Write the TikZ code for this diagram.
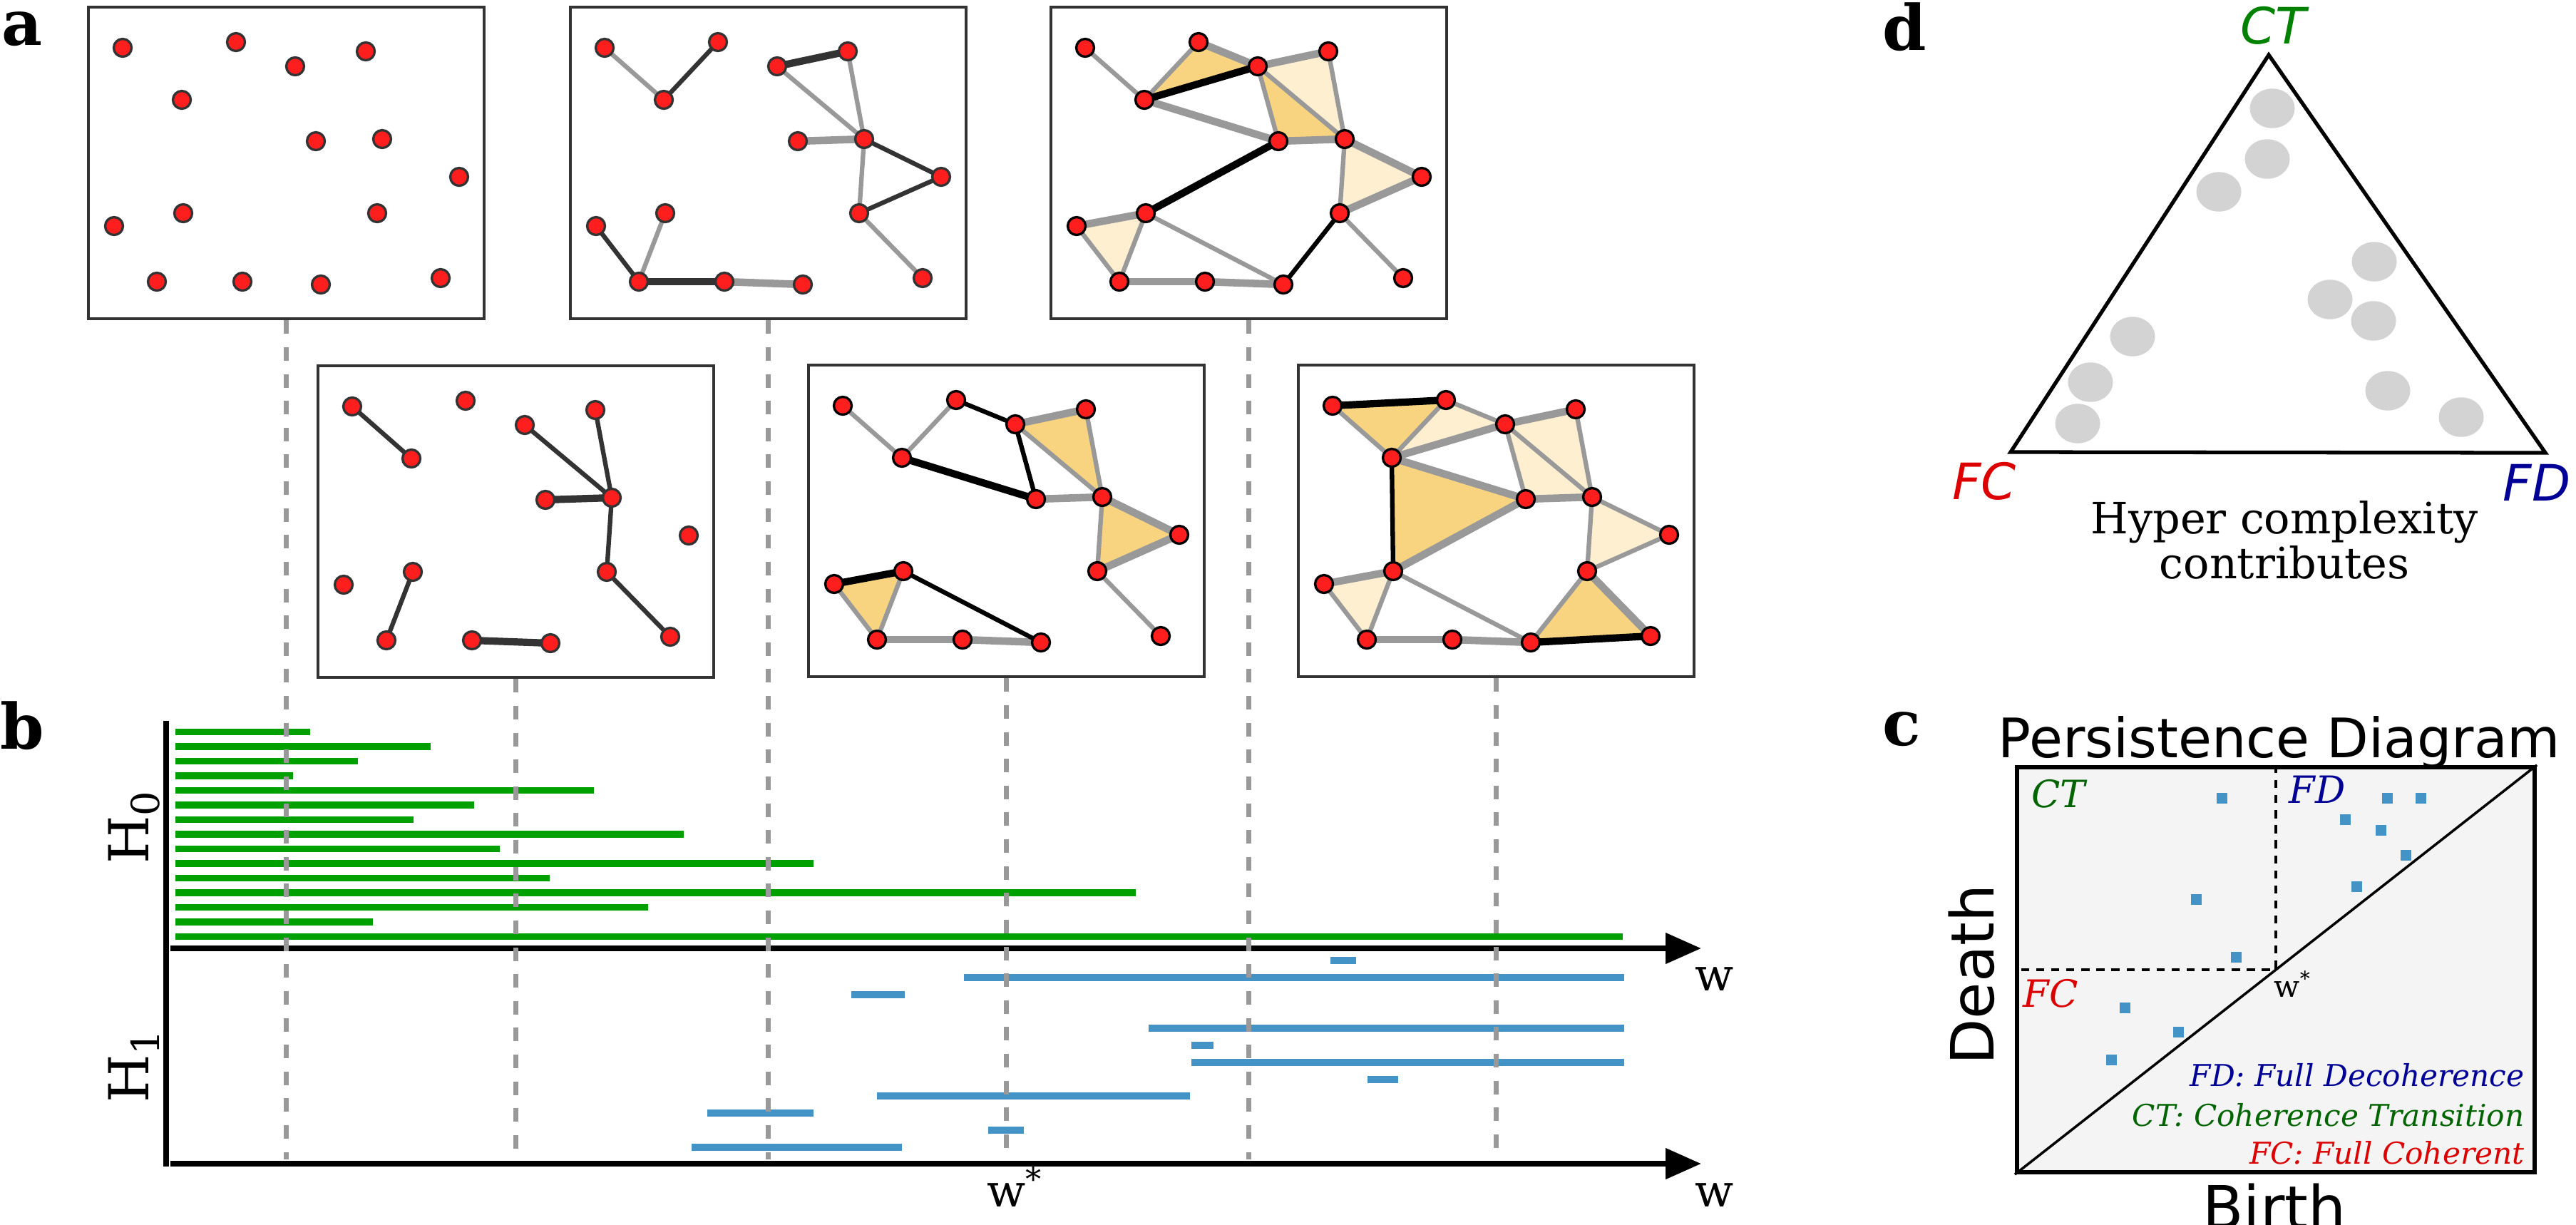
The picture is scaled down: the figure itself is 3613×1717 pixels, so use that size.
\documentclass[tikz,border=0pt]{standalone}
\usepackage{fontspec}
\setmainfont{DejaVu Serif}
\setsansfont{DejaVu Sans}
\usetikzlibrary{arrows.meta}
\pgfdeclarelayer{bg}
\pgfsetlayers{bg,main}

\definecolor{nodered}{RGB}{255,30,30}
\definecolor{rimgray}{HTML}{333333}
\definecolor{edgegray}{HTML}{999999}
\definecolor{faceD}{HTML}{F8D480}
\definecolor{faceL}{HTML}{FDEFD0}
\definecolor{barG}{RGB}{0,160,0}
\definecolor{barB}{RGB}{67,147,198}
\definecolor{ctgreen}{RGB}{0,130,0}
\definecolor{ctdark}{RGB}{0,100,0}
\definecolor{fcred}{RGB}{220,0,0}
\definecolor{fdblue}{RGB}{0,0,150}
\definecolor{dotgray}{HTML}{D3D3D3}
\definecolor{pdfill}{HTML}{F4F4F4}

\newcommand{\setfs}[1]{\fontsize{#1}{#1}\selectfont}

% the same point cloud, placed in every box
\newcommand{\putpoints}[4]{%
  \foreach \k/\u/\v in {1/48/57,2/207/49,3/290/83,4/389/62,5/131/130,6/319/188,7/412/185,
      8/520/238,9/133/289,10/36/307,11/405/289,12/96/385,13/216/385,14/326/389,15/494/380}
    \node[vtx=#4] (#1p\k) at ({#2+\u},{#3+\v}) {};
}
\newcommand{\linkall}[3]{\foreach \a/\b in {#3} \draw[#2] (#1p\a.center) -- (#1p\b.center);}
\newcommand{\facefill}[3]{\foreach \a/\b/\c in {#3}
  \fill[#2] (#1p\a.center) -- (#1p\b.center) -- (#1p\c.center) -- cycle;}

\tikzset{
  vtx/.style={circle,draw=#1,fill=nodered,line width=0.95pt,minimum size=0.25cm,inner sep=0pt},
  pbox/.style={draw=rimgray,line width=1.2pt,minimum width=5.55cm,minimum height=4.37cm,inner sep=0pt},
  ge/.style={draw=edgegray,line width=1.8pt,line cap=round},
  geT/.style={draw=edgegray,line width=3pt,line cap=round},
  ke/.style={draw=#1,line width=1.8pt,line cap=round},
  ke/.default=black,
  keT/.style={draw=#1,line width=2.9pt,line cap=round},
  keT/.default=black,
  guide/.style={draw=edgegray,line width=1.8pt,dash pattern=on 5.4pt off 5.3pt},
  barline/.style={draw=#1,line width=2.67pt},
  axisline/.style={draw=black,line width=2.2pt,-{Triangle[length=0.5cm,width=0.42cm]}},
  panel/.style={font=\setfs{25}\bfseries,inner sep=0pt},
  sq/.style={rectangle,fill=barB,minimum size=0.15cm,inner sep=0pt},
  dotline/.style={draw=black,line width=1.3pt,dash pattern=on 3.2pt off 2.8pt},
}

\begin{document}
\begin{tikzpicture}[x=0.01cm,y=-0.01cm]
\useasboundingbox (0,0) rectangle (3613,1717);

% ---- a: the boxes
\node[pbox] (box1) at (401.5,228.5) {};
\node[pbox] (box2) at (1077.5,228.5) {};
\node[pbox] (box3) at (1751.5,228.5) {};
\node[pbox] (box4) at (723.5,731.5) {};
\node[pbox] (box5) at (1411.5,730.5) {};
\node[pbox] (box6) at (2098.5,730.5) {};

\putpoints{b1}{124}{10}{rimgray}
\putpoints{b2}{800}{10}{rimgray}
\putpoints{b3}{1474}{10}{black}
\putpoints{b4}{446}{513}{rimgray}
\putpoints{b5}{1134}{512}{black}
\putpoints{b6}{1821}{512}{black}

\begin{pgfonlayer}{bg}
  % box 2
  \linkall{b2}{ge}{1/5,3/7,4/7,7/11,9/12,11/15}
  \linkall{b2}{geT}{6/7,13/14}
  \linkall{b2}{ke=rimgray}{2/5,7/8,8/11,10/12}
  \linkall{b2}{keT=rimgray}{3/4,12/13}
  % box 3
  \facefill{b3}{faceD}{2/3/5,3/6/7}
  \facefill{b3}{faceL}{3/4/7,7/8/11,9/10/12}
  \linkall{b3}{ge}{1/5,2/5,3/6,3/7,4/7,7/11,10/12,9/12,9/14,11/15}
  \linkall{b3}{geT}{2/3,3/4,6/7,5/6,7/8,8/11,9/10,12/13,13/14}
  \linkall{b3}{keT}{3/5,6/9}
  \linkall{b3}{ke}{11/14}
  % box 4
  \linkall{b4}{ke=rimgray}{1/5,3/7,4/7,7/11,11/15,9/12}
  \linkall{b4}{keT=rimgray}{6/7,13/14}
  % box 5
  \facefill{b5}{faceD}{3/4/7,7/8/11,9/10/12}
  \linkall{b5}{ge}{1/5,2/5,4/7,7/11,10/12,9/12,11/15,3/7}
  \linkall{b5}{geT}{3/4,6/7,7/8,8/11,12/13,13/14}
  \linkall{b5}{keT}{5/6,9/10}
  \linkall{b5}{ke}{2/3,3/6,9/14}
  % box 6
  \facefill{b6}{faceD}{1/2/5,5/6/9,11/14/15}
  \facefill{b6}{faceL}{2/3/5,3/4/7,3/6/7,7/8/11,9/10/12}
  \linkall{b6}{ge}{1/5,2/5,2/3,3/6,3/7,4/7,7/11,8/11,7/8,10/12,9/12,9/14,11/14}
  \linkall{b6}{geT}{5/3,3/4,6/7,6/9,5/6,9/10,12/13,13/14,11/15}
  \linkall{b6}{keT}{1/2,14/15}
  \linkall{b6}{ke}{5/9}
\end{pgfonlayer}

\node[panel,anchor=base west] (la) at (2,63) {a};

% ---- b: barcode
\node[panel,anchor=base west] (lb) at (0,1050) {b};
\foreach \k/\e in {1/435,2/604,3/502,4/411,5/833,6/665,7/580,8/959,9/701,10/1141,
    11/771,12/1593,13/909,14/523,15/2276}
  \draw[barline=barG] (246,{1026.5+20.5*(\k-1)}) -- (\e,{1026.5+20.5*(\k-1)});
\foreach \yy/\s/\e in {1347/1866/1902,1371/1352/2278,1395/1194/1269,1442/1611/2278,
    1466/1671/1702,1490/1671/2278,1514/1918/1961,1537/1230/1669,1561/992/1141,
    1585/1386/1436,1609/970/1265}
  \draw[barline=barB] (\s,\yy) -- (\e,\yy);

\coordinate (ytop) at (233,1011);
\coordinate (ybot) at (233,1636);
\draw[line width=2.3pt] (ytop) -- (ybot);
\coordinate (hzero0) at (239,1330);
\coordinate (hzero1) at (2386,1330);
\coordinate (hone0) at (239,1632);
\coordinate (hone1) at (2386,1632);
\draw[axisline] (hzero0) -- (hzero1);
\draw[axisline] (hone0) -- (hone1);

\node[font=\setfs{22},rotate=90,anchor=base,inner sep=0pt] (hzero) at (208,1160) {H\textsubscript{0}};
\node[font=\setfs{22},rotate=90,anchor=base,inner sep=0pt] (hone) at (208,1495) {H\textsubscript{1}};
\node[font=\setfs{18},anchor=base west,inner sep=0pt] (wtop) at (2377,1389) {w};
\node[font=\setfs{18},anchor=base west,inner sep=0pt] (wbot) at (2377,1692) {w};
\node[font=\setfs{18},anchor=base west,inner sep=0pt] (wstarb) at (1384,1692) {w\textsuperscript{*}};

\coordinate (gend) at (0,1626);
\foreach \b in {box1,box2,box3,box4,box5,box6}
  \draw[guide] (\b.south) -- (\b.south |- gend);

% ---- c: persistence diagram
\node[panel,anchor=base west] (lc) at (2640,1045) {c};
\node[draw=black,fill=pdfill,line width=1.65pt,minimum width=7.26cm,minimum height=5.68cm,
  inner sep=0pt] (pd) at (3192,1360) {};
\draw[line width=1pt] (pd.south west) -- (pd.north east);
\coordinate (wcorner) at (3192,1360);
\draw[dotline] (wcorner |- pd.north) -- (wcorner) -- (pd.west |- wcorner);
\foreach \k/\u/\v in {1/3116/1119,2/3348/1119,3/3395/1119,4/3289/1149,5/3339/1164,
    6/3374/1199,7/3305/1243,8/3080/1261,9/3136/1342,10/2980/1413,11/3055/1447,12/2961/1486}
  \node[sq] (pt\k) at (\u,\v) {};
\node[font=\setfs{21.7}\sffamily,anchor=base,inner sep=0pt] (pdtitle) at (3197,1062) {Persistence Diagram};
\node[font=\setfs{23.8}\sffamily,rotate=90,anchor=base,inner sep=0pt] (death) at (2796,1367) {Death};
\node[font=\setfs{23.8}\sffamily,anchor=base,inner sep=0pt] (birth) at (3190,1723) {Birth};
\node[font=\setfs{15}\itshape,text=ctdark,anchor=base,inner sep=0pt] (ctc) at (2887,1132) {CT};
\node[font=\setfs{15}\itshape,text=fdblue,anchor=base,inner sep=0pt] (fdc) at (3250,1126) {FD};
\node[font=\setfs{15}\itshape,text=fcred,anchor=base,inner sep=0pt] (fcc) at (2876,1412) {FC};
\node[font=\setfs{12},anchor=base west,inner sep=0pt] (wstarc) at (3189,1398) {w\textsuperscript{*}};
\node[font=\setfs{12}\itshape,text=fdblue,anchor=base east,inner sep=0pt] (legfd) at (3541,1523) {FD: Full Decoherence};
\node[font=\setfs{12}\itshape,text=ctdark,anchor=base east,inner sep=0pt] (legct) at (3541,1579) {CT: Coherence Transition};
\node[font=\setfs{12}\itshape,text=fcred,anchor=base east,inner sep=0pt] (legfc) at (3541,1632) {FC: Full Coherent};

% ---- d: simplex of contributions
\node[panel,anchor=base west] (ld) at (2640,70) {d};
\foreach \u/\v in {3187/152,3180/223,3112/269,3330/367,3268/420,3329/450,2991/472,
    2932/536,2914/594,3349/548,3452/585}
  \fill[dotgray] (\u,\v) ellipse [x radius=0.315cm,y radius=0.277cm];
\coordinate (ctv) at (3182,77);
\coordinate (fcv) at (2820,634);
\coordinate (fdv) at (3570,635);
\draw[line width=1.5pt,line join=miter] (ctv) -- (fcv) -- (fdv) -- cycle;
\node[font=\setfs{20}\sffamily\itshape,text=ctgreen,anchor=base,inner sep=0pt] (ctd) at (3188,61) {CT};
\node[font=\setfs{20}\sffamily\itshape,text=fcred,anchor=base,inner sep=0pt] (fcd) at (2783,700) {FC};
\node[font=\setfs{20}\sffamily\itshape,text=fdblue,anchor=base west,inner sep=0pt] (fdd) at (3510,702) {FD};
\node[font=\fontsize{17.2}{16.5}\selectfont,align=center,anchor=north,inner sep=0pt] (hyper) at (3204,702)
  {Hyper complexity\\contributes};
\end{tikzpicture}
\end{document}
